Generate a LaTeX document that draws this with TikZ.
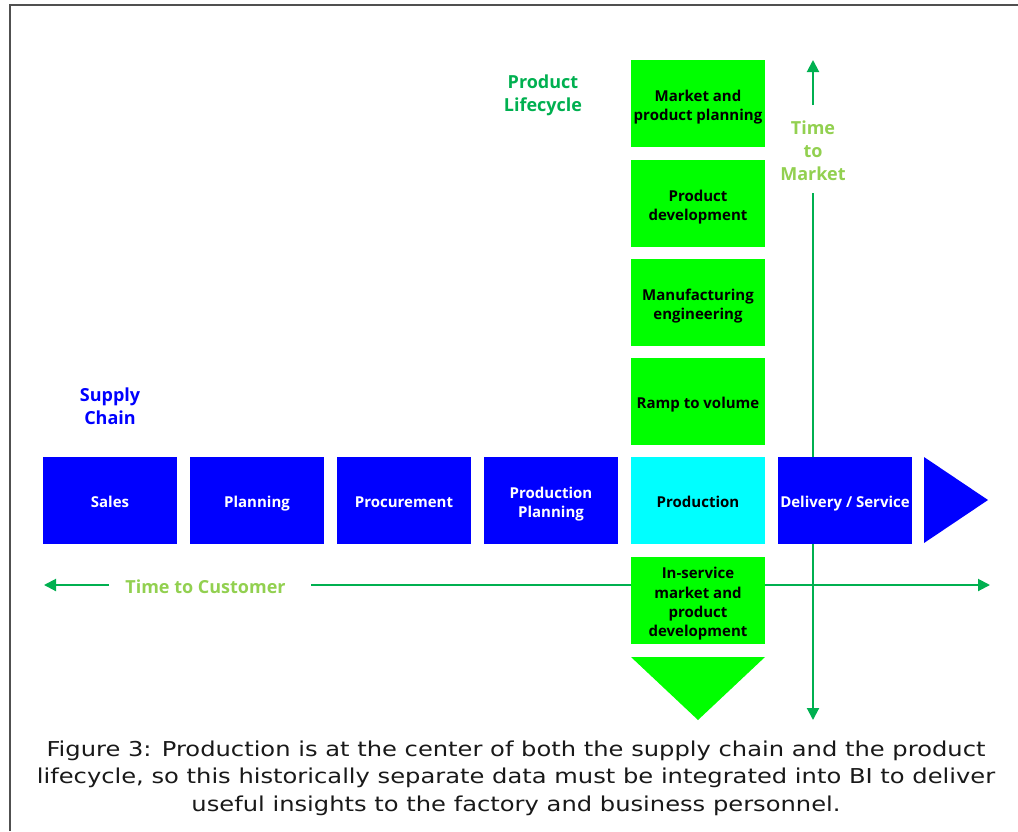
\documentclass[tikz,border=0pt]{standalone}
\usepackage{fontspec}
\setmainfont{Open Sans}
\newfontfamily\capfont[FakeStretch=1.18]{DejaVu Sans}
\usetikzlibrary{arrows.meta}

\definecolor{scblue}{RGB}{0,0,255}
\definecolor{prodcyan}{RGB}{0,255,255}
\definecolor{plcgreen}{RGB}{0,255,0}
\definecolor{axisgreen}{RGB}{0,176,80}
\definecolor{timegreen}{RGB}{146,208,80}
\definecolor{framegray}{RGB}{80,80,80}
\definecolor{captext}{RGB}{25,25,25}

% fixed first-line height and last-line depth, so every label sits alike
\newcommand{\stagetop}{\rule{0pt}{19.5pt}}
\newcommand{\stagebot}{\rule[-5pt]{0pt}{5pt}}

\tikzset{
  stage/.style={minimum width=134pt, minimum height=87pt, inner sep=0pt,
    align=center, font=\bfseries\fontsize{15}{19.3}\selectfont},
  chainbox/.style={stage, fill=scblue, text=white},
  cyclebox/.style={stage, fill=plcgreen, text=black},
  prodbox/.style={stage, fill=prodcyan, text=black},
  heading/.style={align=center, font=\bfseries\fontsize{18}{23}\selectfont},
  timeaxis/.style={draw=axisgreen, line width=2pt},
  axishead/.style={-{Triangle[length=12pt,width=12pt]}},
}

\begin{document}
\begin{tikzpicture}[x=1pt, y=-1pt]
  \useasboundingbox (0,0) rectangle (1018,831);

  % frame
  \draw[framegray, line width=2pt] (10,831) -- (10,5) -- (1018,5);

  % time axes (drawn first, the stage boxes cover them)
  \coordinate (tcL) at (44,585);
  \coordinate (tcGapL) at (109,585);
  \coordinate (tcGapR) at (311,585);
  \coordinate (tcR) at (990,585);
  \draw[timeaxis, axishead] (tcGapL) -- (tcL);
  \draw[timeaxis, axishead] (tcGapR) -- (tcR);
  \node[heading, text=timegreen] (tcust) at (205.5,587) {Time to Customer};

  \coordinate (tmT) at (813,60);
  \coordinate (tmGapT) at (813,105);
  \coordinate (tmGapB) at (813,193);
  \coordinate (tmB) at (813,720);
  \draw[timeaxis, axishead] (tmGapT) -- (tmT);
  \draw[timeaxis, axishead] (tmGapB) -- (tmB);
  \node[heading, text=timegreen] (tmkt) at (813,150.5) {Time\\to\\Market};

  % supply chain
  \node[heading, text=scblue] (schead) at (110,406) {Supply\\Chain};
  \node[chainbox] (sales) at (110,500.5) {\stagetop Sales\stagebot};
  \node[chainbox] (plan) at (257,500.5) {\stagetop Planning\stagebot};
  \node[chainbox] (proc) at (404,500.5) {\stagetop Procurement\stagebot};
  \node[chainbox] (pplan) at (551,500.5) {\stagetop Production\\Planning\stagebot};
  \node[prodbox] (prod) at (698,500.5) {\stagetop Production\stagebot};
  \node[chainbox] (deliv) at (845,500.5) {\stagetop Delivery / Service\stagebot};
  \fill[scblue] (924,457) -- (988,500) -- (924,543) -- cycle;

  % product lifecycle
  \node[heading, text=axisgreen] (plhead) at (543,95) {Product\\Lifecycle};
  \node[cyclebox] (mkt) at (698,103.5) {\stagetop Market and\\product planning\stagebot};
  \node[cyclebox] (dev) at (698,203.5) {\stagetop Product\\development\stagebot};
  \node[cyclebox] (mfg) at (698,302.5) {\stagetop Manufacturing\\engineering\stagebot};
  \node[cyclebox] (ramp) at (698,401.5) {\stagetop Ramp to volume\stagebot};
  \node[cyclebox] (insvc) at (698,600.5)
    {\stagetop In-service\\market and\\product\\development\stagebot};
  \fill[plcgreen] (631,657) -- (765,657) -- (698,720) -- cycle;

  % caption
  \node[align=center, text=captext,
        font=\capfont\fontsize{20.5}{27.5}\selectfont] (cap) at (516,778)
    {Figure 3: Production is at the center of both the supply chain and the product\\
     lifecycle, so this historically separate data must be integrated into BI to deliver\\
     useful insights to the factory and business personnel.};
\end{tikzpicture}
\end{document}
